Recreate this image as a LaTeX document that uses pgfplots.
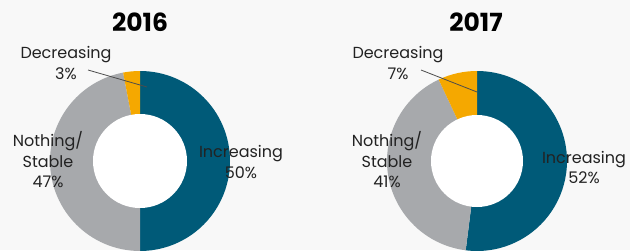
\documentclass[border=0pt]{standalone}
\usepackage{pgfplots}
\pgfplotsset{compat=1.18}
\usepackage{fontspec}
\setmainfont{Poppins}
\definecolor{inc}{HTML}{005A78}
\definecolor{stab}{HTML}{A7A9AC}
\definecolor{dec}{HTML}{F5A800}
\definecolor{bg}{HTML}{F8F8F8}
\definecolor{txt}{HTML}{222222}
% #1 = cumulative percent before slice, #2 = slice percent, #3 = colour
\newcommand{\donutslice}[3]{%
  \fill[#3] (axis cs:0,0) -- ++({90-3.6*(#1)}:90pt)
    arc[start angle={90-3.6*(#1)}, end angle={90-3.6*(#1+#2)}, radius=90pt] -- cycle;}
\pgfplotsset{donut/.style={hide axis, scale only axis, width=180pt, height=180pt,
  xmin=-1, xmax=1, ymin=-1, ymax=1, anchor=origin, clip=false}}
\tikzset{lbl/.style={align=center, text=txt, font=\fontsize{16}{20.5}\selectfont, inner sep=0pt},
  ttl/.style={font=\fontsize{25}{30}\selectfont\bfseries, text=black, inner sep=0pt}}
\begin{document}
\begin{tikzpicture}[x=1pt,y=1pt]
\useasboundingbox (0,0) rectangle (630,250);
\clip (0,0) rectangle (630,250);
\fill[bg] (0,0) rectangle (630,250);
% 2016
\begin{axis}[donut, at={(140pt,89pt)}]
\donutslice{0}{50}{inc}
\donutslice{50}{47}{stab}
\donutslice{97}{3}{dec}
\fill[white] (axis cs:0,0) circle[radius=47pt];
\end{axis}
% 2017
\begin{axis}[donut, at={(477pt,89pt)}]
\donutslice{0}{52}{inc}
\donutslice{52}{41}{stab}
\donutslice{93}{7}{dec}
\fill[white] (axis cs:0,0) circle[radius=46pt];
\end{axis}
% titles
\node[ttl] at (140,228) {2016};
\node[ttl] at (476,228) {2017};
% labels 2016
\node[lbl] at (66,187) {Decreasing\\3\%};
\draw[gray!60!black, line width=0.8pt] (88,180) -- (147,163);
\node[lbl] at (48,90) {Nothing/\\Stable\\47\%};
\node[lbl] at (241,88) {Increasing\\50\%};
% labels 2017
\node[lbl] at (398,187) {Decreasing\\7\%};
\draw[gray!60!black, line width=0.8pt] (421,180) -- (477,158);
\node[lbl] at (387,90) {Nothing/\\Stable\\41\%};
\node[lbl] at (584,82.5) {Increasing\\52\%};
\end{tikzpicture}
\end{document}
